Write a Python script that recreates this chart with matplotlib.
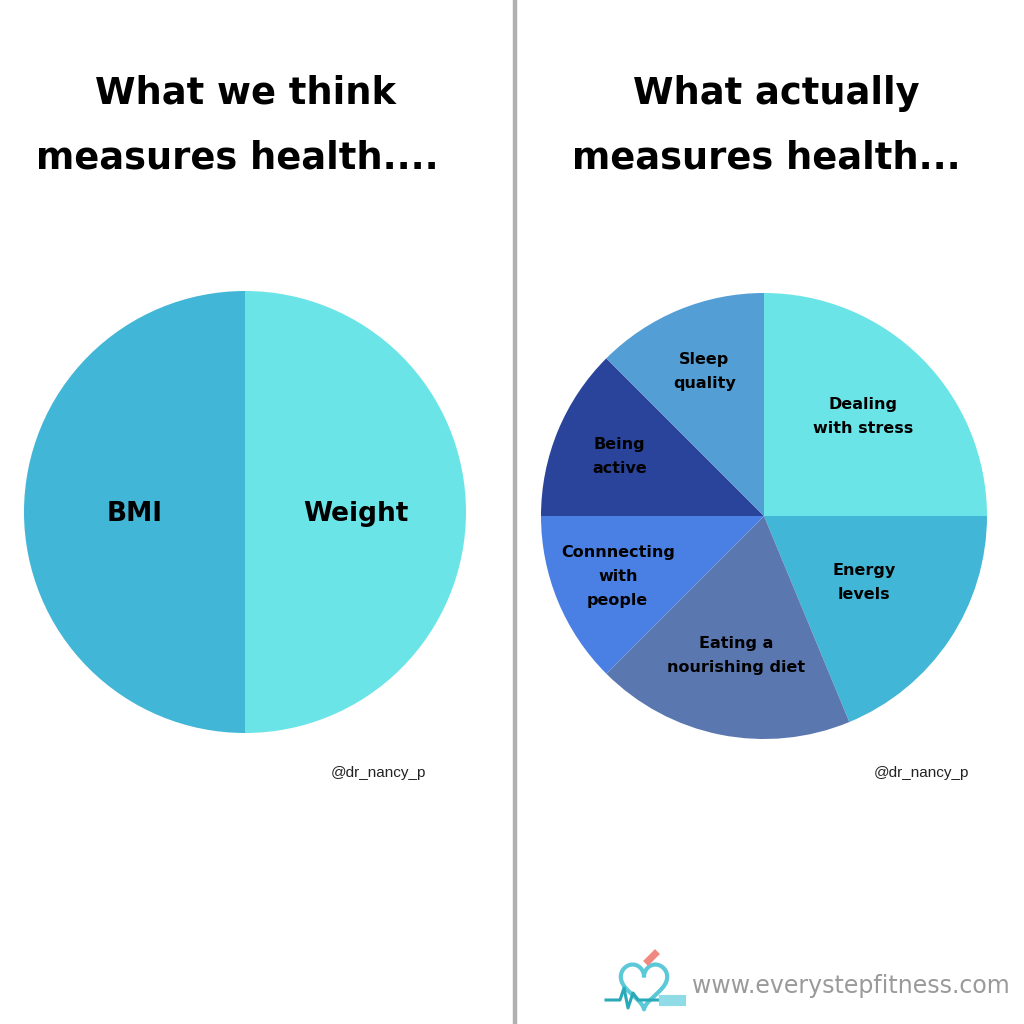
import matplotlib.pyplot as plt
import numpy as np

# Left pie: what we think measures health
left_labels = ["BMI", "Weight"]
left_values = [50, 50]
left_colors = ["#42b6d6", "#6ae4e6"]

# Right pie: what actually measures health (clockwise from 12 o'clock)
right_labels = ["Dealing\nwith stress", "Energy\nlevels", "Eating a\nnourishing diet",
                "Connnecting\nwith\npeople", "Being\nactive", "Sleep\nquality"]
right_values = [25, 18.75, 18.75, 12.5, 12.5, 12.5]
right_colors = ["#6ae4e6", "#42b6d6", "#5a77b0", "#4a80e4", "#2a449c", "#539fd5"]
right_label_dist = [0.63, 0.54, 0.64, 0.71, 0.70, 0.70]

W = 1024
fig = plt.figure(figsize=(10.24, 10.24), dpi=100)
fig.patch.set_facecolor("white")

TITLE_FONT = dict(family="DejaVu Sans", fontweight="bold", fontsize=26.5, color="black")


def px_axes(cx, cy, r):
    """Axes centered at pixel (cx, cy) with radius r (pixels, y from top)."""
    ax = fig.add_axes([(cx - r) / W, (W - cy - r) / W, 2 * r / W, 2 * r / W])
    return ax


# divider line
bg = fig.add_axes([0, 0, 1, 1])
bg.set_xlim(0, W)
bg.set_ylim(W, 0)
bg.axis("off")
bg.axvline(515, color="#b0b0b0", lw=3.2)

# titles
bg.text(245, 93, "What we think", ha="center", va="center", **TITLE_FONT)
bg.text(237, 158, "measures health....", ha="center", va="center", **TITLE_FONT)
bg.text(776, 93, "What actually", ha="center", va="center", **TITLE_FONT)
bg.text(766, 158, "measures health...", ha="center", va="center", **TITLE_FONT)

# handles
bg.text(378, 773, "@dr_nancy_p", ha="center", va="center",
        family="Liberation Sans", fontsize=11, color="#222222")
bg.text(921, 773, "@dr_nancy_p", ha="center", va="center",
        family="Liberation Sans", fontsize=11, color="#222222")

# website logo
bg.text(851, 986, "www.everystepfitness.com", ha="center", va="center",
        family="DejaVu Sans", fontsize=17, color="#9a9a9a")
t = np.linspace(0, 2 * np.pi, 200)
hx = 16 * np.sin(t) ** 3
hy = 13 * np.cos(t) - 5 * np.cos(2 * t) - 2 * np.cos(3 * t) - np.cos(4 * t)
bg.plot(644 + hx * 1.45, 983 - hy * 1.55, color="#5cc9d8", lw=3)
bg.plot([606, 620, 624, 628, 633, 638, 662], [1000, 1000, 988, 1008, 993, 1000, 1000],
        color="#2aa9b8", lw=2.2)
bg.plot([664, 680], [1000, 1000], color="#8fdbe6", lw=8)
bg.plot([648, 655], [961, 954], color="#f08a80", lw=5)

# left pie
ax1 = px_axes(245, 512, 221)
w1, _ = ax1.pie(left_values, colors=left_colors, startangle=90, counterclock=True,
                wedgeprops=dict(linewidth=0))
ax1.set_xlim(-1, 1)
ax1.set_ylim(-1, 1)
for wedge, lab in zip(w1, left_labels):
    ang = np.deg2rad((wedge.theta1 + wedge.theta2) / 2)
    ax1.text(0.5 * np.cos(ang), 0.5 * np.sin(ang) - 0.01, lab, ha="center", va="center",
             fontsize=19, fontweight="bold", family="DejaVu Sans")

# right pie
ax2 = px_axes(764, 516, 223)
w2, _ = ax2.pie(right_values, colors=right_colors, startangle=90, counterclock=False,
                wedgeprops=dict(linewidth=0))
ax2.set_xlim(-1, 1)
ax2.set_ylim(-1, 1)
for wedge, lab, d in zip(w2, right_labels, right_label_dist):
    ang = np.deg2rad((wedge.theta1 + wedge.theta2) / 2)
    ax2.text(d * np.cos(ang), d * np.sin(ang), lab, ha="center", va="center",
             fontsize=11.5, fontweight="bold", family="DejaVu Sans", linespacing=1.75)

fig.savefig("out.png", dpi=100, facecolor="white")
